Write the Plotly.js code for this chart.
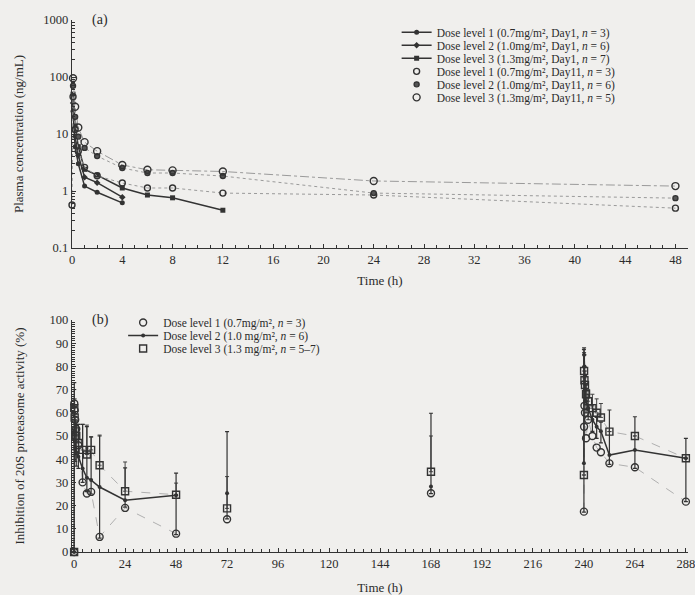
<!DOCTYPE html>
<html>
<head>
<meta charset="utf-8">
<script src="https://cdn.plot.ly/plotly-3.0.1.min.js"></script>
<style>html,body{margin:0;padding:0;background:#f0efed;}#chart{width:695px;height:595px;}</style>
</head>
<body>
<div id="chart"></div>
<script>
// ---------- Panel (a): plasma concentration (ng/mL) vs time (h) ----------
const tDay1Low = [0.083, 0.25, 0.5, 1, 2, 4];
const tDay1High = [0.083, 0.25, 0.5, 1, 2, 4, 6, 8, 12];
const tDay11D1 = [0, 0.083, 0.25, 0.5, 1, 2, 4, 6, 8, 12, 24, 48];
const tDay11 = [0.083, 0.25, 0.5, 1, 2, 4, 6, 8, 12, 24, 48];

const concDay1Dose1 = [25, 6, 3.0, 1.22, 0.95, 0.62];
const concDay1Dose2 = [35, 9, 4.2, 1.75, 1.4, 0.78];
const concDay1Dose3 = [50, 14, 6.0, 2.4, 1.9, 1.13, 0.85, 0.76, 0.46];
const concDay11Dose1 = [0.57, 45, 12, 5.0, 2.6, 1.85, 1.38, 1.13, 1.13, 0.92, 0.85, 0.5];
const concDay11Dose2 = [70, 20, 9, 5.7, 4.1, 2.53, 2.07, 2.07, 1.83, 0.92, 0.75];
const concDay11Dose3 = [95, 30, 13, 7.2, 5.0, 2.86, 2.36, 2.3, 2.2, 1.5, 1.22];

const namesA = [
  "Dose level 1 (0.7mg/m², Day1, <i>n</i> = 3)",
  "Dose level 2 (1.0mg/m², Day1, <i>n</i> = 6)",
  "Dose level 3 (1.3mg/m², Day1, <i>n</i> = 7)",
  "Dose level 1 (0.7mg/m², Day11, <i>n</i> = 3)",
  "Dose level 2 (1.0mg/m², Day11, <i>n</i> = 6)",
  "Dose level 3 (1.3mg/m², Day11, <i>n</i> = 5)"
];
const xTicksA = [0, 4, 8, 12, 16, 20, 24, 28, 32, 36, 40, 44, 48];
const yTicksA = [0.1, 1, 10, 100, 1000];
const yTickTextA = ["0.1", "1", "10", "100", "1000"];

// ---------- Panel (b): inhibition of 20S proteasome activity (%) ----------
const tB = [0, 0.083, 0.25, 0.5, 1, 2, 4, 6, 8, 12, 24, 48, null, 72, null, 168, null,
            240, 240.083, 240.25, 240.5, 241, 242, 244, 246, 248, 252, 264, 288];
const inhDose1 = [0, 64, 61, 57, 53, 46, 30, 25.2, 25.9, 6.5, 19, 7.9, null, 14.1, null, 25.3, null,
                  17.4, 54, 63, 60, 49, 57, 50, 45, 43, 38.2, 36.5, 21.7];
const inhDose2 = [0, 52, 48, 45, 43, 41, 36, 32, 31, 28, 22.3, 24.5, null, 25.3, null, 28.2, null,
                  38.2, 85, 80, 70, 65, 62, 57, 54, 52, 41.8, 44, 40.4];
const inhDose3 = [0, 62, 58, 52, 50, 47, 44, 42, 44, 37.4, 26.2, 24.7, null, 18.8, null, 34.6, null,
                  33.2, 78, 74, 72, 68, 65, 62, 60, 58, 51.9, 50, 40.4];
const errDose2Plus = [0, 21, 15, 12, 12, 14, 19, 22, 18.6, 22, 14, 9.5, null, 26.6, null, 31.6, null,
                      49, 3, 5, 6, 7, 6, 6, 4, 4, 19.4, 14.3, 8.6];
const errDose2Minus = [0, 8, 6, 6, 6, 5, 6, 6, 6, 22, 3, 17, null, 11, null, 3, null,
                       21, 5, 5, 5, 5, 5, 5, 5, 5, 4, 8, 18.7];
const errDose3Plus = [0, 8, 8, 6, 6, 8, 11, 12.7, 5.6, 13, 12.6, 5, null, 13.7, null, 15.4, null,
                      0, 8, 6, 6, 4, 5, 6, 6, 6, 0, 0, 0];
const errDose3Minus = [0, 0, 0, 0, 0, 0, 0, 0, 0, 0, 0, 0, null, 0, null, 0, null,
                       0, 0, 0, 0, 0, 0, 0, 0, 0, 0, 0, 0];

const namesB = [
  "Dose level 1 (0.7mg/m², <i>n</i> = 3)",
  "Dose level 2 (1.0 mg/m², <i>n</i> = 6)",
  "Dose level 3 (1.3 mg/m², <i>n</i> = 5–7)"
];
const xTicksB = [0, 24, 48, 72, 96, 120, 144, 168, 192, 216, 240, 264, 288];
const yTicksB = [0, 10, 20, 30, 40, 50, 60, 70, 80, 90, 100];

// ---------- styling ----------
const FONT = "Liberation Serif, Times New Roman, serif";
const INK = "#2b2b2b";
const DARK = "#333333";
const GREY = "#9a9a9a";

const logMinor = [];
[0.1, 1, 10, 100].forEach(d => { for (let k = 2; k <= 9; k++) logMinor.push(d * k); });

const traces = [];
traces.push({x: tDay1Low, y: concDay1Dose1, name: namesA[0], mode: "lines+markers", xaxis: "x", yaxis: "y",
  line: {color: DARK, width: 1.5}, marker: {symbol: "circle", size: 5, color: DARK}, cliponaxis: false});
traces.push({x: tDay1Low, y: concDay1Dose2, name: namesA[1], mode: "lines+markers", xaxis: "x", yaxis: "y",
  line: {color: DARK, width: 1.5}, marker: {symbol: "diamond", size: 5, color: DARK}, cliponaxis: false});
traces.push({x: tDay1High, y: concDay1Dose3, name: namesA[2], mode: "lines+markers", xaxis: "x", yaxis: "y",
  line: {color: DARK, width: 1.5}, marker: {symbol: "square", size: 5, color: DARK}, cliponaxis: false});
const day11 = [[tDay11D1, concDay11Dose1, "circle-open", 6, "dot"],
               [tDay11, concDay11Dose2, "circle", 5, "dot"],
               [tDay11, concDay11Dose3, "circle-open", 7, "dashdot"]];
day11.forEach((d) => {
  traces.push({x: d[0], y: d[1], mode: "lines", xaxis: "x", yaxis: "y", showlegend: false, hoverinfo: "skip",
    line: {color: GREY, width: 1, dash: d[4]}});
});
day11.forEach((d, i) => {
  traces.push({x: d[0], y: d[1], name: namesA[3 + i], mode: "markers", xaxis: "x", yaxis: "y",
    marker: {symbol: d[2], size: d[3], color: i === 1 ? "#555" : DARK, line: {width: 1.4, color: DARK}}, cliponaxis: false});
});

traces.push({x: tB, y: inhDose1, mode: "lines", xaxis: "x2", yaxis: "y2", showlegend: false, hoverinfo: "skip",
  line: {color: "#b0b0b0", width: 1, dash: "dash"}, legend: "legend2"});
traces.push({x: tB, y: inhDose3, mode: "lines", xaxis: "x2", yaxis: "y2", showlegend: false, hoverinfo: "skip",
  line: {color: "#b0b0b0", width: 1, dash: "dash"}, legend: "legend2",
  error_y: {type: "data", symmetric: false, array: errDose3Plus, arrayminus: errDose3Minus, color: "#444", thickness: 1, width: 2}});
traces.push({x: tB, y: inhDose1, name: namesB[0], mode: "markers", xaxis: "x2", yaxis: "y2", legend: "legend2",
  marker: {symbol: "circle-open", size: 7, color: DARK, line: {width: 1.4, color: DARK}}, cliponaxis: false});
traces.push({x: tB, y: inhDose2, name: namesB[1], mode: "lines+markers", xaxis: "x2", yaxis: "y2", legend: "legend2",
  line: {color: DARK, width: 1.5}, marker: {symbol: "circle", size: 4, color: DARK}, cliponaxis: false,
  error_y: {type: "data", symmetric: false, array: errDose2Plus, arrayminus: errDose2Minus, color: "#333", thickness: 1.2, width: 2}});
traces.push({x: tB, y: inhDose3, name: namesB[2], mode: "markers", xaxis: "x2", yaxis: "y2", legend: "legend2",
  marker: {symbol: "square-open", size: 7, color: DARK, line: {width: 1.4, color: DARK}}, cliponaxis: false});

const TICKFONT = {family: FONT, size: 12.5, color: INK};
const TITLEFONT = {family: FONT, size: 13, color: INK};
const axisBase = {showline: true, linecolor: DARK, linewidth: 1.3, showgrid: false, zeroline: false,
  ticks: "inside", ticklen: 4, tickcolor: DARK, tickwidth: 1, mirror: false, tickfont: TICKFONT,
  ticklabeloverflow: "allow"};

const layout = {
  width: 695, height: 595,
  paper_bgcolor: "#f0efed", plot_bgcolor: "#f0efed",
  margin: {l: 72, r: 7, t: 20, b: 43},
  font: {family: FONT, color: INK, size: 12},
  showlegend: true,
  xaxis: Object.assign({}, axisBase, {domain: [0, 1], anchor: "y", range: [0, 49],
    tickmode: "array", tickvals: xTicksA,
    minor: {dtick: 1, ticks: "inside", ticklen: 3, tickcolor: DARK},
    title: {text: "Time (h)", font: TITLEFONT, standoff: 9}}),
  yaxis: Object.assign({}, axisBase, {domain: [0.5714, 1], anchor: "x", type: "log", range: [-1, 3],
    tickmode: "array", tickvals: yTicksA, ticktext: yTickTextA,
    minor: {tickmode: "array", tickvals: logMinor, ticks: "inside", ticklen: 3, tickcolor: DARK},
    title: {text: "Plasma concentration (ng/mL)", font: TITLEFONT, standoff: 16}}),
  xaxis2: Object.assign({}, axisBase, {domain: [0, 1], anchor: "y2", range: [-1, 289],
    tickmode: "array", tickvals: xTicksB,
    minor: {dtick: 4, ticks: "inside", ticklen: 3, tickcolor: DARK},
    title: {text: "Time (h)", font: TITLEFONT, standoff: 13}}),
  yaxis2: Object.assign({}, axisBase, {domain: [0, 0.4361], anchor: "x2", range: [0, 100],
    tickmode: "array", tickvals: yTicksB,
    minor: {dtick: 1, ticks: "inside", ticklen: 3, tickcolor: DARK},
    title: {text: "Inhibition of 20S proteasome activity (%)", font: TITLEFONT, standoff: 22}}),
  legend: {x: 0.527, y: 1.004, xanchor: "left", yanchor: "top", bgcolor: "rgba(0,0,0,0)",
    font: {family: FONT, size: 11.5, color: INK}, tracegroupgap: 0, itemwidth: 30},
  legend2: {x: 0.083, y: 0.4586, xanchor: "left", yanchor: "top", bgcolor: "rgba(0,0,0,0)",
    font: {family: FONT, size: 11.5, color: INK}, tracegroupgap: 0, itemwidth: 30},
  annotations: [
    {text: "(a)", xref: "paper", yref: "paper", x: 0.03, y: 1.0, xanchor: "left", yanchor: "middle",
     showarrow: false, font: {family: FONT, size: 14, color: INK}},
    {text: "(b)", xref: "paper", yref: "paper", x: 0.03, y: 0.4361, xanchor: "left", yanchor: "middle",
     showarrow: false, font: {family: FONT, size: 14, color: INK}}
  ]
};

Plotly.newPlot("chart", traces, layout, {displayModeBar: false, staticPlot: true}).then(gd => {
  // tighten legend row spacing to match the compact printed legend
  [["legend", 13], ["legend2", 13]].forEach(([cls, step]) => {
    const items = gd.querySelectorAll("g." + cls + " g.traces");
    let y0 = null;
    items.forEach((el, i) => {
      const m = /translate\(\s*([-\d.e]+)[ ,]+([-\d.e]+)\s*\)/.exec(el.getAttribute("transform") || "");
      if (!m) return;
      if (y0 === null) y0 = parseFloat(m[2]);
      el.setAttribute("transform", "translate(" + m[1] + "," + (y0 + i * step) + ")");
    });
  });
});
</script>
</body>
</html>
